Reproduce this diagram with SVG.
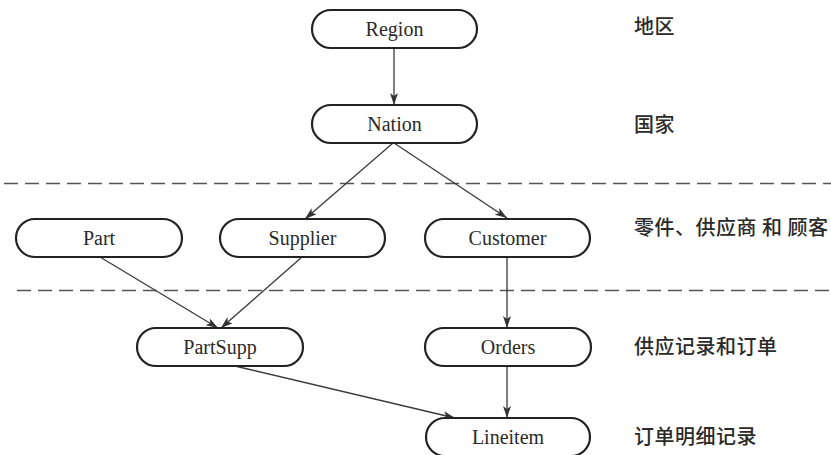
<svg xmlns="http://www.w3.org/2000/svg" width="831" height="455" viewBox="0 0 831 455">
  <defs>
    <marker id="arrow" viewBox="0 0 12 8" refX="12" refY="4" markerWidth="12" markerHeight="8" markerUnits="userSpaceOnUse" orient="auto">
      <path d="M0,0 L12,4 L0,8 L3,4 Z" fill="#333"/>
    </marker>
  </defs>
  <style>
    .pill { fill: #fff; stroke: #222; stroke-width: 2.2; }
    .name { font-family: "Liberation Serif", "Times New Roman", serif; font-size: 20px; fill: #2a2a2a; text-anchor: middle; }
    .tier { font-family: "Noto Sans CJK SC", "Liberation Serif", sans-serif; font-size: 20px; font-weight: 500; letter-spacing: 0.5px; fill: #2a2a2a; }
    .edge { stroke: #3a3a3a; stroke-width: 1.3; fill: none; marker-end: url(#arrow); }
    .divider { stroke: #555; stroke-width: 1.3; stroke-dasharray: 14 7; fill: none; }
  </style>
  <rect width="831" height="455" fill="#fff"/>

  <!-- tier separators -->
  <g id="dividers">
    <line class="divider" x1="4" y1="183.5" x2="831" y2="183.5"/>
    <line class="divider" x1="17" y1="290.5" x2="831" y2="290.5"/>
  </g>

  <!-- tier captions -->
  <g id="captions">
    <text class="tier" x="634" y="34">地区</text>
    <text class="tier" x="634" y="132">国家</text>
    <text class="tier" x="634" y="235">零件、供应商 和 顾客</text>
    <text class="tier" x="634" y="354">供应记录和订单</text>
    <text class="tier" x="634" y="444">订单明细记录</text>
  </g>

  <g id="connectors">
    <line class="edge" x1="394" y1="48" x2="394" y2="105"/>
    <line class="edge" x1="393" y1="143" x2="305" y2="219"/>
    <line class="edge" x1="394" y1="143" x2="507" y2="218"/>
    <line class="edge" x1="100" y1="257" x2="218" y2="328"/>
    <line class="edge" x1="302" y1="257" x2="221" y2="328"/>
    <line class="edge" x1="507" y1="257" x2="507" y2="328"/>
    <line class="edge" x1="235" y1="366" x2="455" y2="418"/>
    <line class="edge" x1="507" y1="366" x2="507" y2="418"/>
  </g>

  <g id="region">
    <rect class="pill" x="312" y="10" width="165" height="38" rx="19"/>
    <text class="name" x="394.5" y="36">Region</text>
  </g>
  <g id="nation">
    <rect class="pill" x="312" y="105" width="165" height="38" rx="19"/>
    <text class="name" x="394.5" y="131">Nation</text>
  </g>
  <g id="part">
    <rect class="pill" x="16" y="219" width="166" height="38" rx="19"/>
    <text class="name" x="99" y="245">Part</text>
  </g>
  <g id="supplier">
    <rect class="pill" x="220" y="219" width="165" height="38" rx="19"/>
    <text class="name" x="302.5" y="245">Supplier</text>
  </g>
  <g id="customer">
    <rect class="pill" x="425" y="219" width="165" height="38" rx="19"/>
    <text class="name" x="507.5" y="245">Customer</text>
  </g>
  <g id="partsupp">
    <rect class="pill" x="137" y="328" width="166" height="38" rx="19"/>
    <text class="name" x="220" y="354">PartSupp</text>
  </g>
  <g id="orders">
    <rect class="pill" x="425" y="328" width="166" height="38" rx="19"/>
    <text class="name" x="508" y="354">Orders</text>
  </g>
  <g id="lineitem">
    <rect class="pill" x="426" y="418" width="164" height="38" rx="19"/>
    <text class="name" x="508" y="444">Lineitem</text>
  </g>
</svg>
